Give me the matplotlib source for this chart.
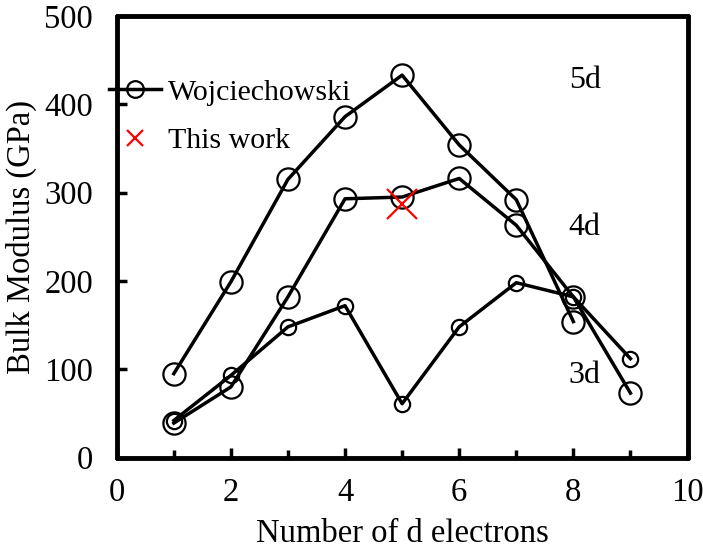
import matplotlib.pyplot as plt
from matplotlib.lines import Line2D
from matplotlib.ticker import MultipleLocator

plt.rcParams['font.family'] = ['Liberation Serif', 'DejaVu Serif']

# number of d electrons
n5d = [1, 2, 3, 4, 5, 6, 7, 8]
b5d = [95, 199, 315, 386, 433, 354, 292, 154]

n4d = [1, 2, 3, 4, 5, 6, 7, 8, 9]
b4d = [39, 80, 182, 293, 295, 316, 263, 182, 73]

n3d = [1, 2, 3, 4, 5, 6, 7, 8, 9]
b3d = [42, 93, 148, 172, 61, 148, 198, 182, 112]

this_n = [5]
this_b = [287]

series_labels = ['5d', '4d', '3d']
label_y = [427, 261, 93]

fig = plt.figure(figsize=(7.03, 5.5), dpi=100)
ax = fig.add_axes([0.166, 0.168, 0.812, 0.803])

ax.plot(n5d, b5d, '-o', color='black', lw=2.5, ms=16, mfc='none', mew=1.6)
ax.plot(n4d, b4d, '-o', color='black', lw=2.5, ms=16, mfc='none', mew=1.6)
ax.plot(n3d, b3d, '-o', color='black', lw=2.5, ms=11, mfc='none', mew=1.6)
ax.plot(this_n, this_b, 'x', color='red', ms=21, mew=1.6, zorder=5)

for lab, yy in zip(series_labels, label_y):
    ax.text(8.2, yy, lab, fontsize=23, ha='center', va='center')

ax.set_xlim(0, 10)
ax.set_ylim(0, 500)
ax.xaxis.set_major_locator(MultipleLocator(2))
ax.xaxis.set_minor_locator(MultipleLocator(1))
ax.yaxis.set_major_locator(MultipleLocator(100))
ax.tick_params(which='both', direction='in', width=2.5, labelsize=23.5,
               top=False, right=False)
ax.tick_params(which='major', length=7)
ax.tick_params(which='minor', length=6)
ax.tick_params(axis='x', which='major', pad=14)
ax.tick_params(axis='y', which='major', pad=17)
for s in ax.spines.values():
    s.set_linewidth(3.5)
    s.set_capstyle('round')

ax.set_xlabel('Number of d electrons', fontsize=23.5, labelpad=8)
ax.set_ylabel('Bulk Modulus (GPa)', fontsize=23.5, labelpad=5)

handles = [
    Line2D([], [], color='black', lw=2.5, marker='o', ms=12, mfc='none', mew=1.6),
    Line2D([], [], color='red', lw=0, marker='x', ms=12, mew=1.6),
]
ax.legend(handles, ['Wojciechowski', 'This work'], loc='upper left',
          bbox_to_anchor=(-0.014, 0.858), frameon=False, fontsize=21.5,
          handlelength=1.75, handletextpad=0.25, borderpad=0, borderaxespad=0,
          labelspacing=0.72)

fig.savefig('out.png', dpi=100)
